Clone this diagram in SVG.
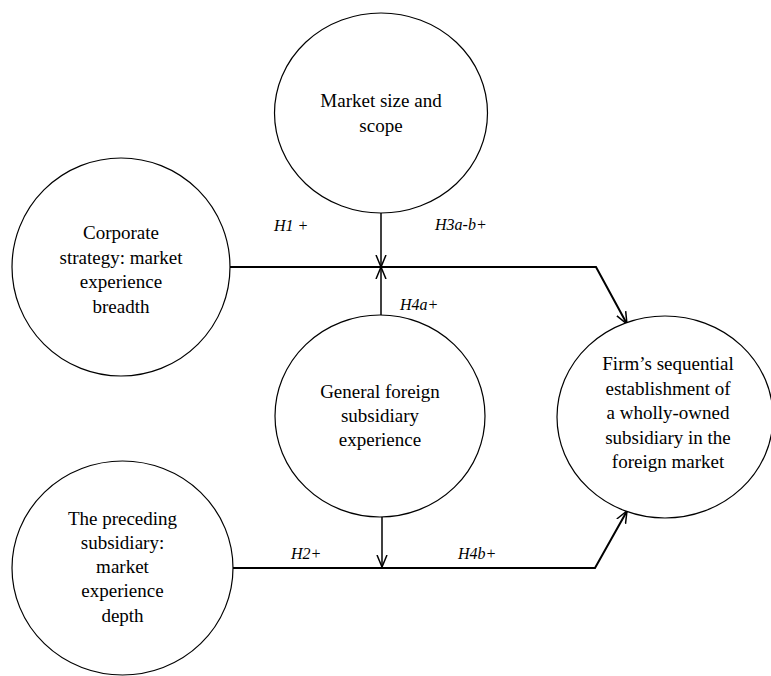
<svg xmlns="http://www.w3.org/2000/svg" width="771" height="676" viewBox="0 0 771 676">
<style>
.node ellipse{fill:#fff;stroke:#000;stroke-width:1.2}
.node text{font-family:'Liberation Serif','Times New Roman',Times,'DejaVu Serif',serif;font-size:19px;fill:#000;text-anchor:middle}
.lbl{font-family:'Liberation Serif','Times New Roman',Times,'DejaVu Serif',serif;font-size:16px;font-style:italic;fill:#000}
.conn path{fill:none;stroke:#000}
.thick{stroke-width:2}
.thin{stroke-width:1.5}
</style>
<defs>
<marker id="arr" viewBox="0 0 12 12" refX="12" refY="6" markerWidth="12" markerHeight="12" markerUnits="userSpaceOnUse" orient="auto">
<path d="M0,1 L12,6 L0,11" fill="none" stroke="#000" stroke-width="1.5"/>
</marker>
</defs>
<rect width="771" height="676" fill="#fff"/>
<g class="conn">
<path class="thick" d="M230,267 L596,267 L627,324" marker-end="url(#arr)"/>
<path class="thick" d="M233,568 L595,568 L627,511" marker-end="url(#arr)"/>
<path class="thin" d="M381,213 L381,267" marker-end="url(#arr)"/>
<path class="thin" d="M381,315 L381,267" marker-end="url(#arr)"/>
<path class="thin" d="M382,517 L382,567" marker-end="url(#arr)"/>
</g>
<g id="market-size" class="node">
<ellipse cx="381" cy="113" rx="106.5" ry="100"/>
<text x="381" y="107">Market size and</text>
<text x="381" y="132">scope</text>
</g>
<g id="corporate-strategy" class="node">
<ellipse cx="121" cy="267" rx="109" ry="109"/>
<text x="121" y="239">Corporate</text>
<text x="121" y="263.5">strategy: market</text>
<text x="121" y="288">experience</text>
<text x="121" y="312.5">breadth</text>
</g>
<g id="general-experience" class="node">
<ellipse cx="380" cy="416" rx="105" ry="101"/>
<text x="380" y="398">General foreign</text>
<text x="380" y="422">subsidiary</text>
<text x="380" y="446">experience</text>
</g>
<g id="preceding-subsidiary" class="node">
<ellipse cx="122.5" cy="568" rx="110.5" ry="107"/>
<text x="122.5" y="525">The preceding</text>
<text x="122.5" y="549">subsidiary:</text>
<text x="122.5" y="573">market</text>
<text x="122.5" y="597">experience</text>
<text x="122.5" y="622">depth</text>
</g>
<g id="firm-establishment" class="node">
<ellipse cx="665" cy="417" rx="108" ry="101"/>
<text x="668" y="370">Firm’s sequential</text>
<text x="668" y="395">establishment of</text>
<text x="668" y="419">a wholly-owned</text>
<text x="668" y="444">subsidiary in the</text>
<text x="668" y="468">foreign market</text>
</g>
<g id="labels">
<text class="lbl" x="274" y="231">H1 +</text>
<text class="lbl" x="435" y="230">H3<tspan>a</tspan>-<tspan>b</tspan>+</text>
<text class="lbl" x="400" y="310">H4<tspan>a</tspan>+</text>
<text class="lbl" x="291" y="559">H2+</text>
<text class="lbl" x="458" y="559">H4<tspan>b</tspan>+</text>
</g>
</svg>
